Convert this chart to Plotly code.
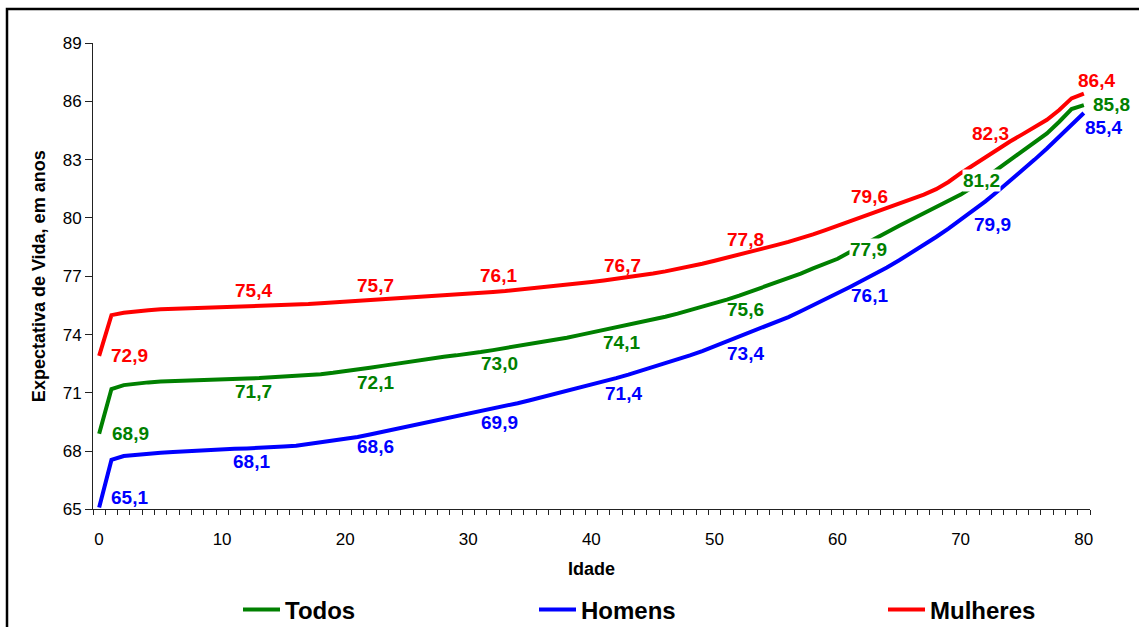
import plotly.graph_objects as go

idade = list(range(0, 81))

todos = [68.9, 71.2, 71.4, 71.48, 71.54, 71.58, 71.61, 71.64, 71.66, 71.68,
         71.7, 71.72, 71.74, 71.76, 71.79, 71.82, 71.86, 71.9, 71.96, 72.03,
         72.1, 72.19, 72.29, 72.39, 72.49, 72.59, 72.69, 72.78, 72.86, 72.93,
         73.0, 73.1, 73.2, 73.3, 73.4, 73.5, 73.6, 73.72, 73.84, 73.97,
         74.1, 74.22, 74.35, 74.48, 74.62, 74.77, 74.92, 75.08, 75.25, 75.42,
         75.6, 75.8, 76.0, 76.22, 76.44, 76.66, 76.9, 77.14, 77.4, 77.65,
         77.9, 78.25, 78.6, 78.95, 79.28, 79.6, 79.92, 80.24, 80.56, 80.88,
         81.2, 81.6, 82.05, 82.5, 82.95, 83.4, 83.85, 84.35, 84.95, 85.6,
         85.8]

homens = [65.1, 67.55, 67.75, 67.82, 67.88, 67.92, 67.96, 68.0, 68.03, 68.06,
          68.1, 68.12, 68.14, 68.16, 68.2, 68.24, 68.28, 68.37, 68.45, 68.52,
          68.6, 68.73, 68.86, 68.99, 69.12, 69.25, 69.38, 69.51, 69.64, 69.77,
          69.9, 70.04, 70.18, 70.32, 70.47, 70.62, 70.78, 70.93, 71.08, 71.24,
          71.4, 71.58, 71.76, 71.94, 72.13, 72.33, 72.53, 72.73, 72.93, 73.15,
          73.4, 73.62, 73.86, 74.1, 74.36, 74.63, 74.9, 75.2, 75.5, 75.8,
          76.1, 76.45, 76.78, 77.1, 77.45, 77.82, 78.2, 78.6, 79.02, 79.45,
          79.9, 80.35, 80.85, 81.37, 81.9, 82.45, 83.0, 83.57, 84.17, 84.8,
          85.4]

mulheres = [72.9, 75.0, 75.12, 75.2, 75.25, 75.3, 75.32, 75.35, 75.37, 75.39,
            75.4, 75.42, 75.44, 75.45, 75.47, 75.5, 75.53, 75.57, 75.61, 75.65,
            75.7, 75.72, 75.75, 75.79, 75.83, 75.87, 75.9, 75.94, 75.98, 76.03,
            76.1, 76.14, 76.19, 76.24, 76.3, 76.36, 76.42, 76.48, 76.54, 76.62,
            76.7, 76.78, 76.86, 76.95, 77.04, 77.14, 77.25, 77.37, 77.5, 77.64,
            77.8, 77.95, 78.1, 78.26, 78.43, 78.6, 78.77, 78.95, 79.15, 79.37,
            79.6, 79.82, 80.05, 80.28, 80.5, 80.72, 80.95, 81.2, 81.48, 81.85,
            82.3, 82.72, 83.15, 83.55, 83.93, 84.3, 84.65, 85.05, 85.55, 86.15,
            86.4]

label_ages = [0, 10, 20, 30, 40, 50, 60, 70, 80]
y_ticks = [65, 68, 71, 74, 77, 80, 83, 86, 89]
x_ticks = [0, 10, 20, 30, 40, 50, 60, 70, 80]

# Category-style axis: tick marks sit between ages (at half-years);
# the age labels are drawn at the tick just before each labelled age and shifted half a step.
x_tick_marks = [a - 0.5 for a in idade] + [idade[-1] + 0.5]
x_tick_text = [str(a) if a in x_ticks else "" for a in idade] + [""]

series = [
    ("Todos", todos, "#008000", "legend"),
    ("Homens", homens, "#0000FF", "legend2"),
    ("Mulheres", mulheres, "#FF0000", "legend3"),
]

# label offsets (pixels) per series, per label age: (xshift, yshift)
offsets = {
    "Todos": [(31, 0), (31, -12), (30, -11), (31, -9), (30, -10), (31, -6), (31, 9), (21, 14), (28, 1)],
    "Homens": [(30, 10), (29, -12), (30, -7), (31, -8), (32, -8), (31, -7), (32, -2), (32, -5), (20, -15)],
    "Mulheres": [(30, 0), (31, 17), (30, 16), (30, 18), (31, 17), (31, 21), (32, 29), (30, 40), (13, 13)],
}
# labels drawn with an opaque white box (they sit on top of lines)
boxed = {("Todos", 60), ("Todos", 70)}

fig = go.Figure()
for name, vals, color, lg in series:
    fig.add_trace(go.Scatter(
        x=idade, y=vals, mode="lines", name=name,
        line=dict(color=color, width=4), legend=lg,
    ))

annotations = []
for name, vals, color, lg in series:
    for (a, (dx, dy)) in zip(label_ages, offsets[name]):
        v = vals[idade.index(a)]
        ann = dict(
            x=a, y=v, xref="x", yref="y", showarrow=False,
            text=f"{v:.1f}".replace(".", ","),
            font=dict(family="Liberation Sans, Arial, sans-serif", size=19, color=color, weight="bold"),
            xshift=dx, yshift=dy, borderpad=0,
        )
        if (name, a) in boxed:
            ann["bgcolor"] = "white"
        annotations.append(ann)

L, R, T, B = 93, 49, 43, 116
W, H = 1139, 627
pw = W - L - R
ph = H - T - B
def px_x(p):
    return (p - L) / pw
def px_y(p):
    return (H - B - p) / ph

fig.add_shape(type="rect", xref="paper", yref="paper",
              x0=px_x(7), x1=px_x(1150), y0=px_y(645), y1=px_y(9),
              line=dict(color="black", width=2.5), fillcolor="rgba(0,0,0,0)", layer="above")

legend_font = dict(family="Liberation Sans, Arial, sans-serif", size=24, color="black", weight="bold")
def legend_at(xpx):
    return dict(x=xpx / W, y=1 - 610 / H, xref="container", yref="container",
                xanchor="left", yanchor="middle", orientation="h",
                font=legend_font, bgcolor="rgba(0,0,0,0)", itemwidth=37)

half_step_px = int(round(pw / (x_tick_marks[-1] - x_tick_marks[0]) / 2))

fig.update_layout(
    width=W, height=H,
    margin=dict(l=L, r=R, t=T, b=B),
    paper_bgcolor="white", plot_bgcolor="white",
    font=dict(family="Liberation Sans, Arial, sans-serif", size=17, color="black"),
    annotations=annotations,
    showlegend=True,
    legend=legend_at(238),
    legend2=legend_at(534),
    legend3=legend_at(883),
    xaxis=dict(
        range=[x_tick_marks[0], x_tick_marks[-1]],
        tickmode="array", tickvals=x_tick_marks, ticktext=x_tick_text,
        ticks="outside", ticklen=5, tickcolor="#222", tickwidth=1,
        ticklabelshift=half_step_px, ticklabelstandoff=9,
        showgrid=False, zeroline=False,
        showline=True, linecolor="#222", linewidth=1,
        title=dict(text="<b>Idade</b>", font=dict(size=18), standoff=14),
        tickfont=dict(size=17),
    ),
    yaxis=dict(
        range=[65, 89], tickvals=y_ticks, ticks="outside", ticklen=7,
        tickcolor="#222", showgrid=False, zeroline=False,
        showline=True, linecolor="#222", linewidth=1,
        title=dict(text="<b>Expectativa de Vida, em anos</b>", font=dict(size=18), standoff=12),
        tickfont=dict(size=17),
    ),
)

fig.write_html("out.html")
